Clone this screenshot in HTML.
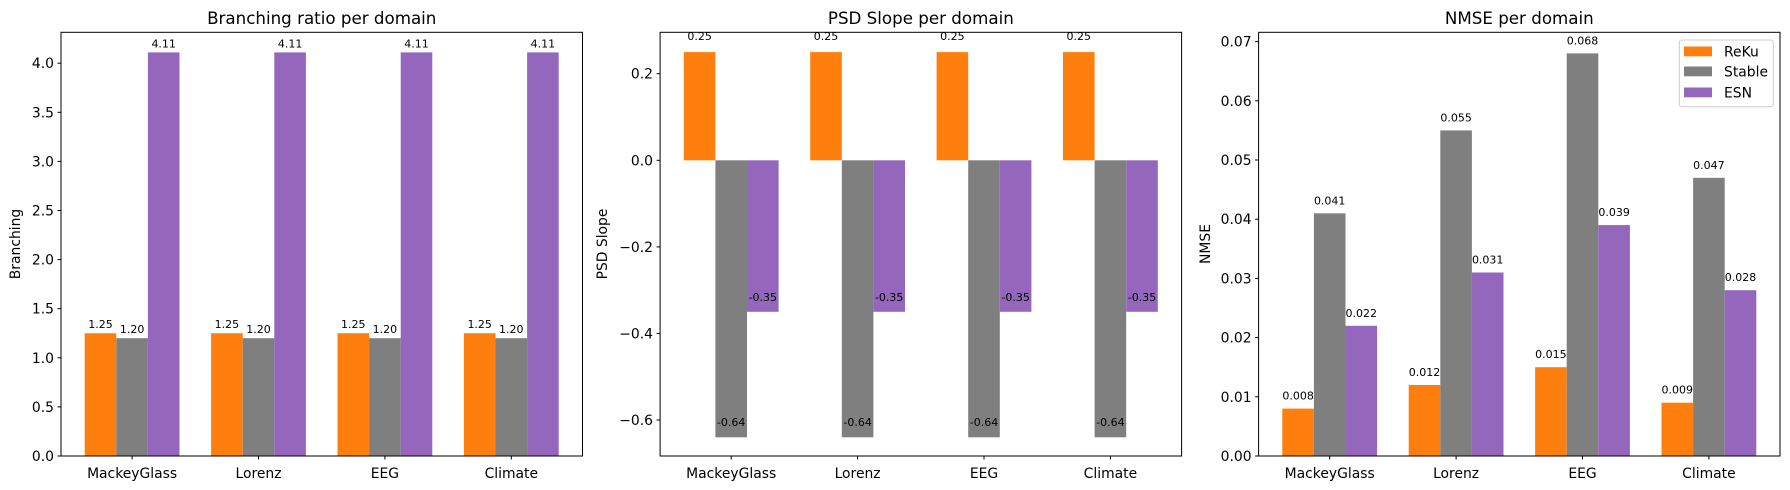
<!DOCTYPE html>
<html><head><meta charset="utf-8"><style>
html,body{margin:0;padding:0;background:#fff}
svg{display:block}
text{font-family:"DejaVu Sans","Liberation Sans",sans-serif;fill:#000}
.t{font-size:13.9px}
.b{font-size:11px;text-anchor:middle}
.ti{font-size:16.7px;text-anchor:middle}
</style></head><body>
<svg width="1790" height="490" viewBox="0 0 1790 490" xmlns="http://www.w3.org/2000/svg">
<rect width="1790" height="490" fill="#fff"/>

<!-- Panel 1 -->
<g>
<rect x="84.7" y="333.25" width="31.6" height="122.75" fill="#ff7f0e"/>
<rect x="116.3" y="338.2" width="31.6" height="117.8" fill="#7f7f7f"/>
<rect x="147.9" y="52.4" width="31.6" height="403.6" fill="#9467bd"/>
<rect x="211.1" y="333.25" width="31.6" height="122.75" fill="#ff7f0e"/>
<rect x="242.7" y="338.2" width="31.6" height="117.8" fill="#7f7f7f"/>
<rect x="274.3" y="52.4" width="31.6" height="403.6" fill="#9467bd"/>
<rect x="337.5" y="333.25" width="31.6" height="122.75" fill="#ff7f0e"/>
<rect x="369.1" y="338.2" width="31.6" height="117.8" fill="#7f7f7f"/>
<rect x="400.7" y="52.4" width="31.6" height="403.6" fill="#9467bd"/>
<rect x="463.9" y="333.25" width="31.6" height="122.75" fill="#ff7f0e"/>
<rect x="495.5" y="338.2" width="31.6" height="117.8" fill="#7f7f7f"/>
<rect x="527.1" y="52.4" width="31.6" height="403.6" fill="#9467bd"/>
<text class="b" x="100.5" y="328">1.25</text><text class="b" x="132.1" y="333">1.20</text><text class="b" x="163.7" y="47.5">4.11</text>
<text class="b" x="226.9" y="328">1.25</text><text class="b" x="258.5" y="333">1.20</text><text class="b" x="290.1" y="47.5">4.11</text>
<text class="b" x="353.3" y="328">1.25</text><text class="b" x="384.9" y="333">1.20</text><text class="b" x="416.5" y="47.5">4.11</text>
<text class="b" x="479.7" y="328">1.25</text><text class="b" x="511.3" y="333">1.20</text><text class="b" x="542.9" y="47.5">4.11</text>
<rect x="61" y="32.3" width="521.5" height="423.7" fill="none" stroke="#000" stroke-width="1"/>
<g stroke="#000" stroke-width="1">
<line x1="61" x2="57.5" y1="456" y2="456"/><line x1="61" x2="57.5" y1="406.9" y2="406.9"/><line x1="61" x2="57.5" y1="357.8" y2="357.8"/><line x1="61" x2="57.5" y1="308.7" y2="308.7"/><line x1="61" x2="57.5" y1="259.6" y2="259.6"/><line x1="61" x2="57.5" y1="210.5" y2="210.5"/><line x1="61" x2="57.5" y1="161.4" y2="161.4"/><line x1="61" x2="57.5" y1="112.3" y2="112.3"/><line x1="61" x2="57.5" y1="63.2" y2="63.2"/>
<line x1="132.1" x2="132.1" y1="456" y2="459.5"/><line x1="258.5" x2="258.5" y1="456" y2="459.5"/><line x1="384.9" x2="384.9" y1="456" y2="459.5"/><line x1="511.3" x2="511.3" y1="456" y2="459.5"/>
</g>
<g class="t" text-anchor="end">
<text x="54" y="461">0.0</text><text x="54" y="411.9">0.5</text><text x="54" y="362.8">1.0</text><text x="54" y="313.7">1.5</text><text x="54" y="264.6">2.0</text><text x="54" y="215.5">2.5</text><text x="54" y="166.4">3.0</text><text x="54" y="117.3">3.5</text><text x="54" y="68.2">4.0</text>
</g>
<g class="t" text-anchor="middle">
<text x="132.1" y="478">MackeyGlass</text><text x="258.5" y="478">Lorenz</text><text x="384.9" y="478">EEG</text><text x="511.3" y="478">Climate</text>
</g>
<text class="t" text-anchor="middle" transform="translate(20,244) rotate(-90)">Branching</text>
<text class="ti" x="321.75" y="24">Branching ratio per domain</text>
</g>

<!-- Panel 2 -->
<g>
<rect x="683.8" y="52.1" width="31.6" height="108.2" fill="#ff7f0e"/>
<rect x="715.4" y="160.3" width="31.6" height="277" fill="#7f7f7f"/>
<rect x="747" y="160.3" width="31.6" height="151.5" fill="#9467bd"/>
<rect x="810.2" y="52.1" width="31.6" height="108.2" fill="#ff7f0e"/>
<rect x="841.8" y="160.3" width="31.6" height="277" fill="#7f7f7f"/>
<rect x="873.4" y="160.3" width="31.6" height="151.5" fill="#9467bd"/>
<rect x="936.6" y="52.1" width="31.6" height="108.2" fill="#ff7f0e"/>
<rect x="968.2" y="160.3" width="31.6" height="277" fill="#7f7f7f"/>
<rect x="999.8" y="160.3" width="31.6" height="151.5" fill="#9467bd"/>
<rect x="1063" y="52.1" width="31.6" height="108.2" fill="#ff7f0e"/>
<rect x="1094.6" y="160.3" width="31.6" height="277" fill="#7f7f7f"/>
<rect x="1126.2" y="160.3" width="31.6" height="151.5" fill="#9467bd"/>
<text class="b" x="699.6" y="40">0.25</text><text class="b" x="731.2" y="426">-0.64</text><text class="b" x="762.8" y="301">-0.35</text>
<text class="b" x="826" y="40">0.25</text><text class="b" x="857.6" y="426">-0.64</text><text class="b" x="889.2" y="301">-0.35</text>
<text class="b" x="952.4" y="40">0.25</text><text class="b" x="984" y="426">-0.64</text><text class="b" x="1015.6" y="301">-0.35</text>
<text class="b" x="1078.8" y="40">0.25</text><text class="b" x="1110.4" y="426">-0.64</text><text class="b" x="1142" y="301">-0.35</text>
<rect x="660.1" y="32.3" width="521.5" height="423.7" fill="none" stroke="#000" stroke-width="1"/>
<g stroke="#000" stroke-width="1">
<line x1="660.1" x2="656.6" y1="73.7" y2="73.7"/><line x1="660.1" x2="656.6" y1="160.3" y2="160.3"/><line x1="660.1" x2="656.6" y1="246.9" y2="246.9"/><line x1="660.1" x2="656.6" y1="333.4" y2="333.4"/><line x1="660.1" x2="656.6" y1="420" y2="420"/>
<line x1="731.2" x2="731.2" y1="456" y2="459.5"/><line x1="857.6" x2="857.6" y1="456" y2="459.5"/><line x1="984" x2="984" y1="456" y2="459.5"/><line x1="1110.4" x2="1110.4" y1="456" y2="459.5"/>
</g>
<g class="t" text-anchor="end">
<text x="653" y="78.7">0.2</text><text x="653" y="165.3">0.0</text><text x="653" y="251.9">−0.2</text><text x="653" y="338.4">−0.4</text><text x="653" y="425">−0.6</text>
</g>
<g class="t" text-anchor="middle">
<text x="731.2" y="478">MackeyGlass</text><text x="857.6" y="478">Lorenz</text><text x="984" y="478">EEG</text><text x="1110.4" y="478">Climate</text>
</g>
<text class="t" text-anchor="middle" transform="translate(607,244) rotate(-90)">PSD Slope</text>
<text class="ti" x="920.85" y="24">PSD Slope per domain</text>
</g>

<!-- Panel 3 -->
<g>
<rect x="1282.3" y="408.6" width="31.6" height="47.4" fill="#ff7f0e"/>
<rect x="1313.9" y="213.3" width="31.6" height="242.7" fill="#7f7f7f"/>
<rect x="1345.5" y="325.8" width="31.6" height="130.2" fill="#9467bd"/>
<rect x="1408.7" y="385" width="31.6" height="71" fill="#ff7f0e"/>
<rect x="1440.3" y="130.4" width="31.6" height="325.6" fill="#7f7f7f"/>
<rect x="1471.9" y="272.5" width="31.6" height="183.5" fill="#9467bd"/>
<rect x="1535.1" y="367.2" width="31.6" height="88.8" fill="#ff7f0e"/>
<rect x="1566.7" y="53.4" width="31.6" height="402.6" fill="#7f7f7f"/>
<rect x="1598.3" y="225.1" width="31.6" height="230.9" fill="#9467bd"/>
<rect x="1661.5" y="402.7" width="31.6" height="53.3" fill="#ff7f0e"/>
<rect x="1693.1" y="177.8" width="31.6" height="278.2" fill="#7f7f7f"/>
<rect x="1724.7" y="290.2" width="31.6" height="165.8" fill="#9467bd"/>
<text class="b" x="1298.1" y="399.6">0.008</text><text class="b" x="1329.7" y="204.3">0.041</text><text class="b" x="1361.3" y="316.8">0.022</text>
<text class="b" x="1424.5" y="376">0.012</text><text class="b" x="1456.1" y="121.4">0.055</text><text class="b" x="1487.7" y="263.5">0.031</text>
<text class="b" x="1550.9" y="358.2">0.015</text><text class="b" x="1582.5" y="44.4">0.068</text><text class="b" x="1614.1" y="216.1">0.039</text>
<text class="b" x="1677.3" y="393.7">0.009</text><text class="b" x="1708.9" y="168.8">0.047</text><text class="b" x="1740.5" y="281.2">0.028</text>
<rect x="1258.6" y="32.3" width="521.4" height="423.7" fill="none" stroke="#000" stroke-width="1"/>
<g stroke="#000" stroke-width="1">
<line x1="1258.6" x2="1255.1" y1="456" y2="456"/><line x1="1258.6" x2="1255.1" y1="396.8" y2="396.8"/><line x1="1258.6" x2="1255.1" y1="337.6" y2="337.6"/><line x1="1258.6" x2="1255.1" y1="278.4" y2="278.4"/><line x1="1258.6" x2="1255.1" y1="219.2" y2="219.2"/><line x1="1258.6" x2="1255.1" y1="160" y2="160"/><line x1="1258.6" x2="1255.1" y1="100.8" y2="100.8"/><line x1="1258.6" x2="1255.1" y1="41.6" y2="41.6"/>
<line x1="1329.7" x2="1329.7" y1="456" y2="459.5"/><line x1="1456.1" x2="1456.1" y1="456" y2="459.5"/><line x1="1582.5" x2="1582.5" y1="456" y2="459.5"/><line x1="1708.9" x2="1708.9" y1="456" y2="459.5"/>
</g>
<g class="t" text-anchor="end">
<text x="1251.6" y="461">0.00</text><text x="1251.6" y="401.8">0.01</text><text x="1251.6" y="342.6">0.02</text><text x="1251.6" y="283.4">0.03</text><text x="1251.6" y="224.2">0.04</text><text x="1251.6" y="165">0.05</text><text x="1251.6" y="105.8">0.06</text><text x="1251.6" y="46.6">0.07</text>
</g>
<g class="t" text-anchor="middle">
<text x="1329.7" y="478">MackeyGlass</text><text x="1456.1" y="478">Lorenz</text><text x="1582.5" y="478">EEG</text><text x="1708.9" y="478">Climate</text>
</g>
<text class="t" text-anchor="middle" transform="translate(1210,244) rotate(-90)">NMSE</text>
<text class="ti" x="1519.3" y="24">NMSE per domain</text>
<!-- legend -->
<rect x="1679.3" y="40" width="94" height="66.7" rx="2.5" fill="#fff" fill-opacity="0.8" stroke="#cccccc" stroke-width="1"/>
<rect x="1684" y="46.5" width="28" height="9.8" fill="#ff7f0e"/>
<rect x="1684" y="66.5" width="28" height="9.8" fill="#7f7f7f"/>
<rect x="1684" y="87.5" width="28" height="9.8" fill="#9467bd"/>
<text class="t" x="1724" y="56.3">ReKu</text>
<text class="t" x="1724" y="76.3">Stable</text>
<text class="t" x="1724" y="97.3">ESN</text>
</g>
</svg>
</body></html>
